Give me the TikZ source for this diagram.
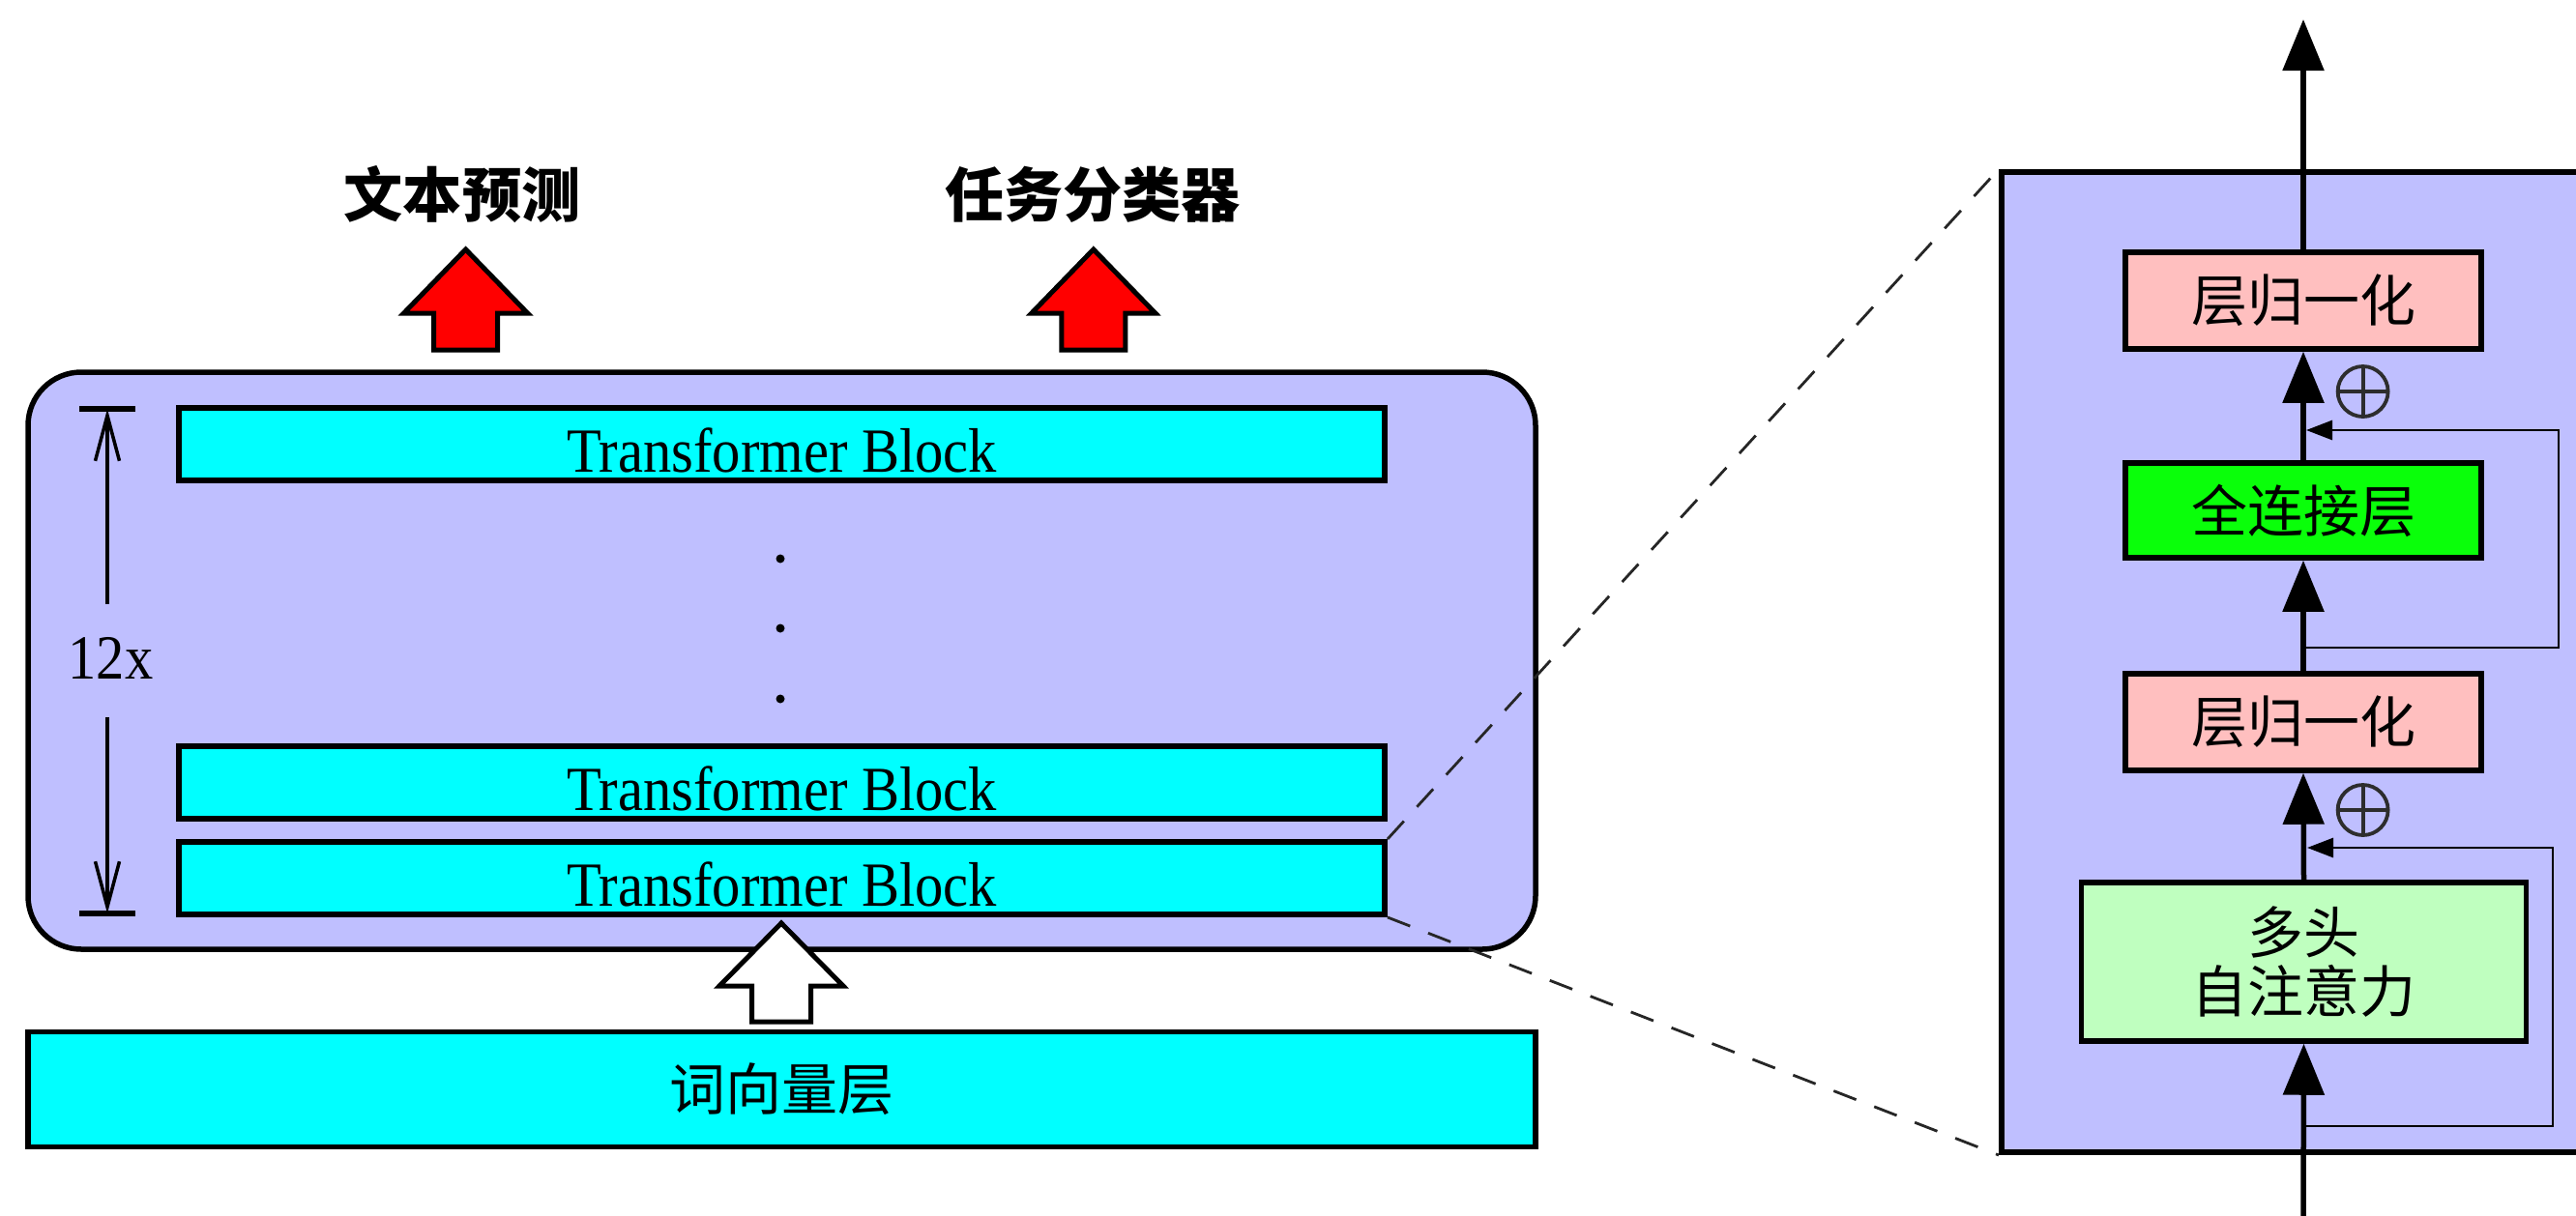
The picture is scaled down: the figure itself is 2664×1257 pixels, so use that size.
\documentclass[tikz,border=0pt]{standalone}
\usepackage{fontspec}
\usepackage{graphicx}
\setmainfont{Liberation Serif}
\newfontfamily\cjk{Noto Sans CJK SC}
\usetikzlibrary{arrows.meta,calc}

\definecolor{stackfill}{RGB}{191,191,255}
\definecolor{blockcyan}{RGB}{0,255,255}
\definecolor{normpink}{RGB}{255,191,191}
\definecolor{attgreen}{RGB}{191,255,191}
\definecolor{fcgreen}{RGB}{10,255,10}
\definecolor{oplusgrey}{RGB}{45,45,45}

\newcommand{\tblabel}{\scalebox{0.9}[1]{Transformer Block}}

\tikzset{
  box/.style={draw, line width=0.55mm, inner sep=0pt, anchor=center},
  stackbox/.style={box, fill=stackfill, rounded corners=5.5mm,
    minimum width=155.9mm, minimum height=59.7mm},
  tbbox/.style={box, line width=0.6mm, fill=blockcyan, minimum width=124.7mm,
    minimum height=7.5mm, text height=5.8mm, text depth=0pt,
    font=\fontsize{18.5pt}{22pt}\selectfont},
  embbox/.style={box, fill=blockcyan, minimum width=155.9mm, minimum height=11.9mm,
    font=\cjk\fontsize{16.5pt}{20pt}\selectfont},
  headline/.style={inner sep=0pt, font=\cjk\bfseries\fontsize{17.4pt}{21pt}\selectfont},
  lnbox/.style={box, fill=normpink, minimum width=36.8mm, minimum height=10mm,
    font=\cjk\fontsize{16.5pt}{20pt}\selectfont},
  fcbox/.style={box, fill=fcgreen, minimum width=36.8mm, minimum height=9.8mm,
    font=\cjk\fontsize{16.5pt}{20pt}\selectfont},
  attbox/.style={box, fill=attgreen, minimum width=46mm, minimum height=16.4mm,
    align=center, font=\cjk\fontsize{16.5pt}{17.6pt}\selectfont},
  panelbox/.style={box, line width=0.6mm, fill=stackfill, minimum width=65mm,
    minimum height=101.4mm},
  flow/.style={line width=0.55mm, -{Triangle[width=4.2mm,length=5.3mm]}},
  skip/.style={line width=0.28mm, -{Triangle[width=2mm,length=2.7mm]}},
  dimline/.style={line width=0.35mm, -{Straight Barb[length=4.7mm,width=2.5mm]}},
  zoomline/.style={line width=0.28mm, dash pattern=on 2.5mm off 2mm, black!85},
  oplus/.style={circle, draw=oplusgrey, line width=0.38mm, minimum size=5.2mm,
    inner sep=0pt,
    path picture={
      \draw[oplusgrey, line width=0.38mm]
        (path picture bounding box.north) -- (path picture bounding box.south)
        (path picture bounding box.west) -- (path picture bounding box.east);}},
  % block arrows pointing up, tip at the pic origin
  redup/.pic={
    \draw[line width=0.5mm, line join=miter, fill=red]
      (0,0) -- (64,66) -- (33,66) -- (33,104) -- (-33,104) -- (-33,66) -- (-64,66) -- cycle;
  },
  whiteup/.pic={
    \draw[line width=0.5mm, line join=miter, fill=white]
      (0,0) -- (64,65) -- (30.5,65) -- (30.5,102) -- (-30.5,102) -- (-30.5,65) -- (-64,65) -- cycle;
  },
}

\begin{document}
\begin{tikzpicture}[x=0.1mm, y=-0.1mm]
  \useasboundingbox (0,0) rectangle (2664,1257);
  \clip (0,0) rectangle (2664,1257);
  \fill[white] (0,0) rectangle (2664,1257);

  % ---------- left: the 12-block stack ----------
  \node[stackbox] (stack) at (808.5,683.5) {};
  \node[tbbox] (tb1) at (808.5,459.5) {\tblabel};
  \node[tbbox] (tb2) at (808.5,809) {\tblabel};
  \node[tbbox] (tb3) at (808.5,908.5) {\tblabel};

  % vertical ellipsis between the blocks
  \foreach \yy in {578,650,723} \fill (807,\yy) circle (0.45mm);

  % repetition count with its dimension arrows
  \node[inner sep=0pt, font=\fontsize{18.5pt}{22pt}\selectfont] (rep) at (114.5,681)
    {\scalebox{0.9}[1]{12x}};
  \coordinate (dimtop) at (111,423);
  \coordinate (dimbot) at (111,945);
  \draw[line width=0.55mm] ($(dimtop)+(-29,0)$) -- ($(dimtop)+(29,0)$);
  \draw[line width=0.55mm] ($(dimbot)+(-29,0)$) -- ($(dimbot)+(29,0)$);
  \draw[dimline] ($(rep)+(-3.5,-56)$) -- (dimtop);
  \draw[dimline] ($(rep)+(-3.5,61)$) -- (dimbot);

  % embedding layer
  \node[embbox] (emb) at (808.5,1127) {词向量层};

  % output heads
  \node[headline] (head1) at (478,201.5) {文本预测};
  \node[headline] (head2) at (1130,201.5) {任务分类器};

  % block arrows
  \pic at (481.6,258) {redup};
  \pic at (1130.8,258) {redup};
  \pic at (808,955) {whiteup};

  % ---------- right: inside one block ----------
  \node[panelbox] (panel) at (2395,685) {};
  \node[lnbox] (ln2) at (2382,311) {层归一化};
  \node[fcbox] (fc) at (2382,528) {全连接层};
  \node[lnbox] (ln1) at (2382,747) {层归一化};
  \node[attbox] (att) at (2382.5,995) {多头\\自注意力};

  \coordinate (in) at (2382,1275);
  \coordinate (out) at (2382,20);
  \draw[flow] (in) -- (att.south);
  \draw[flow] (att.north) -- (ln1.south);
  \draw[flow] (ln1.north) -- (fc.south);
  \draw[flow] (fc.north) -- (ln2.south);
  \draw[flow] (ln2.north) -- (out);

  % residual connections
  \coordinate (r1) at (2382,1165);
  \coordinate (j1) at (2386,877);
  \coordinate (r2) at (2382,670);
  \coordinate (j2) at (2385,445);
  \draw[skip] (r1) -- (2640,1165) |- (j1);
  \draw[skip] (r2) -- (2646,670) |- (j2);
  \node[oplus] (add1) at (2443.6,838) {};
  \node[oplus] (add2) at (2443.6,405) {};

  % zoom guides
  \draw[zoomline] (tb3.north east) -- (panel.north west);
  \draw[zoomline] (tb3.south east) -- (panel.south west);
\end{tikzpicture}
\end{document}
